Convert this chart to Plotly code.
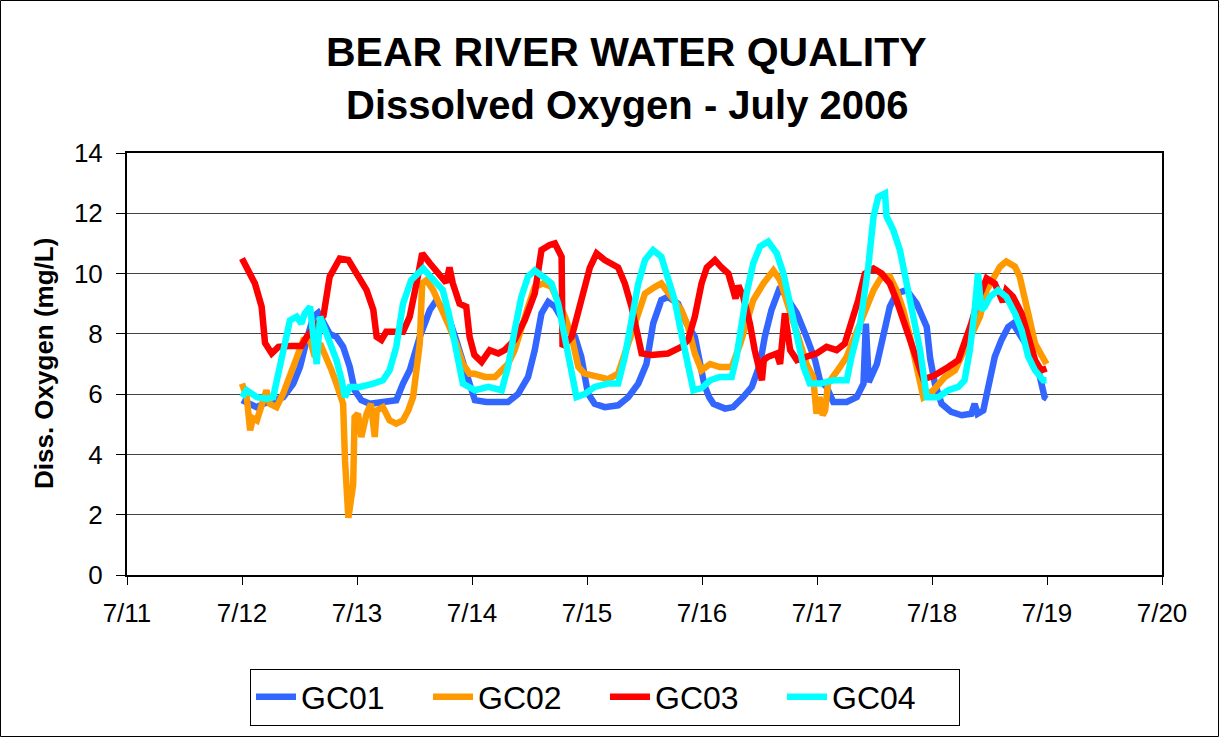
import pandas as pd
import plotly.graph_objects as go

# hours since 7/12/2006 00:00 and dissolved oxygen (mg/L)
gc01_h = [0, 1.7, 3, 4.5, 6.5, 8.6, 10.7, 12.1, 13.5, 14.9, 15.9, 16.9, 18.3, 19.7, 21.1, 22.5, 23.5, 24.9,
          26.7, 29.4, 32.2, 33.6, 35, 37.1, 39.2, 40.6, 41.9, 43.3, 44.7, 46.1, 47.5, 48.6, 51, 55.5, 57.6,
          59.7, 61.1, 62.5, 63.9, 65.3, 67.4, 69.5, 70.8, 72.2, 73.6, 75.7, 78.5, 80.6, 82.7, 84.4, 85.8,
          87.5, 88.9, 91, 92.8, 94.5, 95.5, 96.5, 97.5, 98.4, 100.8, 102.5, 104.6, 106.4, 108.1, 109.1,
          110.5, 112.3, 114, 115.8, 117.8, 119.6, 120.6, 122, 123.4, 126.2, 128.3, 129.7, 130.2, 130.8,
          132.5, 133.8, 135.2, 136.6, 138.7, 140.8, 142.9, 143.6, 144.6, 146, 148, 150.2, 152.2, 152.9,
          153.5, 154.7, 155.7, 157.1, 158.5, 159.9, 160.9, 162.3, 163.4, 164.8, 166.2, 167.5, 168]
gc01_v = [5.8, 5.7, 5.57, 5.68, 5.8, 5.9, 6.35, 6.9, 7.8, 8.57, 8.7, 8.45, 8.0, 7.9, 7.57, 6.9, 6.13, 5.8,
          5.68, 5.74, 5.8, 6.35, 6.79, 7.9, 8.79, 9.12, 8.79, 8.45, 7.8, 7.0, 6.35, 5.8, 5.74, 5.74, 6.0,
          6.57, 7.46, 8.68, 9.06, 8.9, 8.34, 7.9, 7.24, 6.02, 5.68, 5.57, 5.63, 5.9, 6.35, 7.0, 8.34,
          9.12, 9.23, 9.0, 8.34, 7.9, 7.0, 6.3, 5.9, 5.68, 5.52, 5.57, 5.9, 6.24, 7.0, 7.9,
          8.79, 9.56, 9.12, 8.68, 7.9, 7.13, 6.46, 6.24, 5.74, 5.74, 5.9, 6.35, 8.34, 6.4,
          7.0, 7.9, 8.9, 9.34, 9.45, 9.0, 8.23, 7.2, 6.35, 5.68, 5.41, 5.3, 5.35, 5.68,
          5.35, 5.46, 6.24, 7.24, 7.8, 8.23, 8.34, 8.0, 7.68, 7.35, 6.79, 5.9, 5.85]

gc02_h = [0, 1, 1.7, 2.3, 3.1, 4.1, 5.1, 5.8, 7.2, 8.6, 10, 11.4, 12.8, 14.2, 15.2, 16.3, 17.6, 18.7, 19.7,
          21.1, 21.5, 22.2, 23.2, 23.5, 24.2, 24.9, 26, 26.9, 27.7, 28.1, 29.4, 30.8, 32.2, 33.6, 34.7,
          35.7, 36.4, 37.1, 37.6, 38.5, 39.9, 41.9, 43.3, 44.7, 46.1, 47.5, 48.5, 50.7, 52.8, 54.2, 55.5,
          56.9, 58.3, 59.7, 61.1, 62.8, 64.6, 66, 67.4, 68.8, 70.2, 71.5, 74.3, 76.4, 78.5, 79.9, 81.3,
          82.7, 84.1, 86.2, 87.5, 89.6, 91.7, 93.1, 94.5, 95.9, 97.7, 99.7, 102.2, 104, 105.3, 106.7,
          108.8, 110.9, 112.3, 113.7, 115.1, 116.5, 117.8, 119.2, 119.9, 120.5, 121.2, 121.7, 122.3,
          123.4, 124.8, 126.2, 127.6, 129, 130.4, 131.8, 133.5, 135.2, 136.6, 138, 139.4, 140.8, 142.2,
          144.3, 146.7, 148.8, 150.8, 152.2, 154, 155.4, 156.8, 158.2, 159.5, 161.3, 162.3, 163.4, 164.4,
          165.5, 166.5, 167.9]
gc02_v = [6.35, 5.9, 4.8, 5.2, 5.13, 5.68, 6.13, 5.68, 5.57, 6.02, 6.57, 7.24, 7.8, 7.8, 7.24, 7.68, 7.24, 6.79, 6.35,
          5.68, 3.8, 1.9, 3.0, 5.24, 5.35, 4.58, 5.35, 5.68, 4.58, 5.46, 5.57, 5.13, 5.02, 5.13, 5.46,
          5.9, 6.79, 7.68, 9.67, 9.78, 9.45, 8.79, 8.23, 7.68, 7.0, 6.68, 6.68, 6.57, 6.57, 6.79, 7.0,
          7.46, 8.23, 8.9, 9.56, 9.67, 9.56, 9.12, 8.57, 7.9, 6.9, 6.68, 6.57, 6.5, 6.68, 7.35, 8.0,
          8.79, 9.34, 9.56, 9.67, 9.23, 8.79, 8.23, 7.35, 6.79, 7.0, 6.9, 6.9, 7.68, 8.45, 9.12,
          9.67, 10.1, 9.78, 9.12, 8.45, 7.68, 7.0, 6.57, 5.35, 5.9, 5.3, 5.46, 6.35,
          6.57, 6.9, 7.24, 7.8, 8.34, 8.9, 9.45, 9.9, 9.9, 9.45, 8.79, 7.9, 7.0, 5.9,
          6.13, 6.57, 6.79, 7.46, 7.9, 8.57, 9.45, 9.9, 10.23, 10.4, 10.23, 9.9, 9.0, 8.45,
          7.68, 7.35, 7.0]

gc03_h = [0, 2.7, 4.1, 4.8, 6.2, 7.6, 10, 12.4, 13.5, 15.5, 17, 18.3, 20.4, 22.2, 23.9, 26, 27.4, 28.1, 29.1,
          30.1, 33.6, 35, 36.7, 37.6, 39.2, 41.25, 42.6, 43.3, 44, 45.4, 46.8, 47.5, 48.5, 50, 51.7, 53.5,
          54.8, 56.9, 59, 61.1, 62.5, 64.2, 65.3, 66.7, 66.9, 68.8, 70.2, 71.5, 72.6, 74, 75.7, 78.5, 79.9,
          81.3, 82.3, 83.4, 85.5, 88.9, 91.7, 93.1, 94.5, 95.9, 97, 98.7, 100.1, 101.5, 102.5, 103, 103.6,
          104.6, 106, 107, 108.5, 108.9, 109.8, 111.6, 112.3, 113.3, 114.4, 115.8, 117.8, 119.9, 122,
          124.1, 125.8, 127.2, 128.6, 130, 131.8, 133.5, 135.2, 136.6, 138, 139.4, 140.8, 142.2, 144.3,
          145.3, 147.4, 149.5, 150.8, 152.2, 153.6, 155.4, 157.1, 158.8, 159.5, 160.9, 162.7, 164.1,
          165.5, 166.8, 167.9]
gc03_v = [10.5, 9.67, 8.9, 7.7, 7.35, 7.57, 7.6, 7.6, 7.9, 8.3, 8.6, 9.9, 10.5, 10.45, 10.0, 9.45, 8.8, 7.9, 7.8,
          8.07, 8.07, 8.57, 9.9, 10.67, 10.34, 10.0, 9.7, 10.2, 9.67, 9.0, 8.9, 7.9, 7.3, 7.07, 7.46, 7.35,
          7.46, 7.8, 8.45, 9.34, 10.78, 10.95, 11.0, 10.56, 7.57, 7.9, 8.68, 9.45, 10.2, 10.67, 10.45, 10.2, 9.67,
          8.9, 8.23, 7.35, 7.3, 7.35, 7.57, 7.8, 8.57, 9.67, 10.2, 10.45, 10.2, 10.0, 9.45, 9.17, 9.6,
          9.23, 8.34, 7.46, 6.46, 7.13, 7.24, 7.35, 7.0, 8.68, 7.46, 7.13, 7.24, 7.35, 7.57,
          7.46, 7.68, 8.34, 9.12, 10.0, 10.17, 10.0, 9.67, 9.12, 8.45, 7.8, 7.0, 6.5, 6.6,
          6.68, 6.9, 7.13, 7.68, 8.34, 9.12, 9.84, 9.67, 9.06, 9.45, 9.23, 8.68, 7.9,
          7.13, 6.79, 6.85]

gc04_h = [0, 1, 3.1, 5.1, 6.5, 7.9, 9, 10, 11.4, 12.4, 13.1, 14.2, 14.9, 15.6, 16.3, 17.3, 18.3, 19.7, 20.8,
          21.5, 22.5, 24.6, 27.4, 29.4, 30.8, 32.2, 33.6, 35.3, 37.8, 39.9, 41.9, 43.3, 44.7, 46.1, 48.6,
          51.4, 54.2, 55.5, 56.9, 58.3, 59.7, 61.1, 62.8, 64.6, 66, 67.4, 68.8, 69.8, 71.5, 73.6, 76.4,
          78.5, 79.9, 81.3, 82.7, 84.1, 85.8, 87.5, 88.9, 90.3, 91.7, 93.1, 94.2, 95.9, 97.7, 99.7, 102.2,
          103.2, 104.3, 105.3, 106.7, 108.1, 109.8, 111.6, 113, 114.4, 115.8, 117.2, 118.5, 120.6, 123.4,
          126.2, 127.2, 129, 130.7, 131.8, 132.8, 134.2, 134.5, 135.9, 137.3, 138.7, 140.1, 141.5, 142.9,
          145.3, 147.4, 149.5, 150.8, 151.9, 152.9, 153.6, 154.3, 155, 156.1, 157.8, 159.5, 161.3, 162.7,
          164.1, 165.5, 167.2, 167.9]
gc04_v = [5.9, 6.13, 5.9, 5.85, 5.9, 6.9, 7.9, 8.45, 8.57, 8.34, 8.68, 8.9, 7.9, 7.0, 8.57, 8.12, 7.8, 7.13, 6.46,
          5.9, 6.24, 6.24, 6.35, 6.46, 6.79, 7.57, 9.0, 9.78, 10.17, 9.78, 9.45, 8.57, 7.35, 6.35, 6.13,
          6.24, 6.13, 6.9, 8.12, 9.23, 9.9, 10.1, 9.9, 9.67, 9.0, 7.9, 6.57, 5.9, 6.0, 6.24, 6.35,
          6.35, 7.24, 8.57, 9.67, 10.45, 10.78, 10.56, 9.9, 9.12, 8.0, 6.79, 6.13, 6.2, 6.46, 6.57, 6.57,
          7.24, 8.34, 9.34, 10.34, 10.9, 11.06, 10.67, 10.0, 8.9, 7.8, 6.9, 6.35, 6.35, 6.46,
          6.46, 7.24, 8.34, 10.23, 11.9, 12.55, 12.66, 11.9, 11.45, 10.78, 9.67, 8.57, 7.46, 5.9,
          5.9, 6.13, 6.24, 6.46, 7.46, 8.79, 10.0, 8.79, 8.9, 9.23, 9.45, 9.23, 8.68, 8.12,
          7.24, 6.79, 6.46, 6.46]

series = [
    ('GC01', gc01_h, gc01_v, '#3366FF'),
    ('GC02', gc02_h, gc02_v, '#FF9900'),
    ('GC03', gc03_h, gc03_v, '#FF0000'),
    ('GC04', gc04_h, gc04_v, '#00FFFF'),
]

start = pd.Timestamp('2006-07-12 00:00')
font = 'Liberation Sans, Arial, sans-serif'

# plot area in pixels: x 127..1162, y 153..575
W, H = 1220, 738
L, R, T, B = 127, 58, 153, 163
pw, ph = W - L - R, H - T - B

fig = go.Figure()
for name, hrs, vals, color in series:
    fig.add_trace(go.Scatter(
        x=start + pd.to_timedelta(hrs, unit='h'),
        y=vals,
        mode='lines',
        name=name,
        line=dict(color=color, width=6.5),
    ))

xr = [pd.Timestamp('2006-07-11'), pd.Timestamp('2006-07-20')]

fig.update_layout(
    width=W, height=H,
    margin=dict(l=L, r=R, t=T, b=B),
    paper_bgcolor='white',
    plot_bgcolor='white',
    font=dict(family=font, color='black', size=26),
    showlegend=True,
    legend=dict(
        orientation='h',
        x=(605 - L) / pw, y=(H - B - 697) / ph,
        xanchor='center', yanchor='middle',
        bordercolor='black', borderwidth=1,
        font=dict(size=32),
        itemwidth=40,
        entrywidth=122,
        tracegroupgap=0,
    ),
    xaxis=dict(
        range=xr,
        tickmode='linear', tick0='2006-07-11', dtick=86400000,
        tickformat='%-m/%-d',
        ticks='outside', ticklen=8, tickwidth=1, tickcolor='black',
        ticklabelstandoff=6,
        showline=True, linewidth=2, linecolor='black', mirror=True,
        showgrid=False, zeroline=False,
    ),
    xaxis2=dict(
        range=xr, overlaying='x', anchor='y', side='bottom',
        tickmode='linear', tick0='2006-07-11', dtick=86400000,
        ticks='inside', ticklen=8, tickwidth=1, tickcolor='black',
        showticklabels=False, showgrid=False, showline=False, zeroline=False,
    ),
    yaxis=dict(
        range=[0, 14], tickmode='linear', tick0=0, dtick=2,
        ticks='outside', ticklen=9, tickwidth=1, tickcolor='black',
        ticklabelstandoff=8,
        showline=True, linewidth=2, linecolor='black', mirror=True,
        showgrid=True, gridcolor='#444444', gridwidth=1,
        zeroline=False,
    ),
)

# titles
fig.add_annotation(text='<b>BEAR RIVER WATER QUALITY</b>', xref='paper', yref='paper',
                   x=(626.5 - L) / pw, y=(H - B - 52) / ph, xanchor='center', yanchor='middle',
                   showarrow=False, font=dict(size=41, family=font))
fig.add_annotation(text='<b>Dissolved Oxygen - July 2006</b>', xref='paper', yref='paper',
                   x=(626.5 - L) / pw, y=(H - B - 105) / ph, xanchor='center', yanchor='middle',
                   showarrow=False, font=dict(size=40, family=font))
fig.add_annotation(text='<b>Diss. Oxygen (mg/L)</b>', xref='paper', yref='paper',
                   x=(44 - L) / pw, y=(H - B - 364) / ph, xanchor='center', yanchor='middle',
                   textangle=-90, showarrow=False, font=dict(size=26, family=font))

# outer chart border
fig.add_shape(type='rect', xref='paper', yref='paper', layer='below',
              x0=(0.5 - L) / pw, x1=(W - 1.5 - L) / pw,
              y0=(H - B - (H - 1.5)) / ph, y1=(H - B - 0.5) / ph,
              line=dict(color='black', width=1))

# page body has a default 8px margin; remove it so the chart sits at 0,0
fig.write_html('out.html', config={'displayModeBar': False},
               post_script="document.body.style.margin='0';")
